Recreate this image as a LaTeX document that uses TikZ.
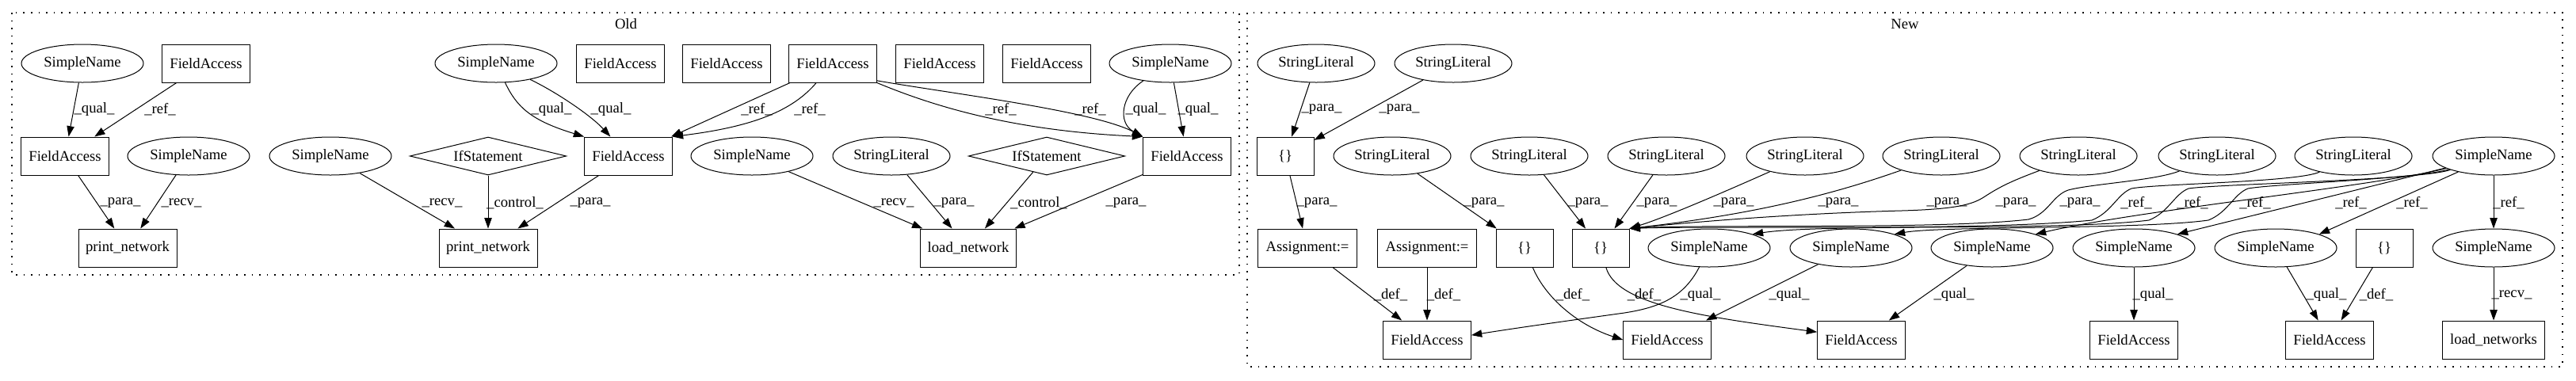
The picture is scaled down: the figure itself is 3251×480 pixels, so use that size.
\documentclass[tikz,border=0pt]{standalone}
\usepackage{fontspec}
\setmainfont{Liberation Serif}
\usetikzlibrary{shapes.geometric,arrows.meta}
\begin{document}
\begin{tikzpicture}[x=0.75pt,y=-0.75pt,
  every node/.style={font=\fontsize{14pt}{16pt}\selectfont},
  base/.style={draw, line width=0.75pt, inner sep=0pt, minimum height=36pt},
  fa/.style={base, rectangle, minimum width=83pt},
  pn/.style={base, rectangle, minimum width=93pt},
  lnw/.style={base, rectangle, minimum width=91pt},
  lnws/.style={base, rectangle, minimum width=97pt},
  asg/.style={base, rectangle, minimum width=94pt},
  br/.style={base, rectangle, minimum width=54pt},
  sn/.style={base, ellipse, minimum width=115.5pt},
  sl/.style={base, ellipse, minimum width=111pt},
  ifs/.style={base, diamond, aspect=4.1, minimum width=148pt},
  e/.style={draw, line width=0.75pt, -{Triangle[length=10pt,width=7pt]}},
  lab/.style={inner sep=0pt},
  clus/.style={draw, line width=1pt, dash pattern=on 1.2pt off 6pt}
]
\useasboundingbox (0,0) rectangle (3251,480);
% clusters
\draw[clus] (15,16) rectangle (1564,347);
\draw[clus] (1574,16) rectangle (3234,463);
\node[lab] (oldlab) at (790,30) {Old};
\node[lab] (newlab) at (2404,30) {New};

% ---------- Old ----------
\node[sn] (os1) at (104,80) {SimpleName};
\node[fa] (of1) at (260,80) {FieldAccess};
\node[sn] (os2) at (626,80) {SimpleName};
\node[fa] (of2) at (783,80) {FieldAccess};
\node[fa] (of3) at (917,80) {FieldAccess};
\node[fa] (of4) at (1051,80) {FieldAccess};
\node[fa] (of5) at (1186,80) {FieldAccess};
\node[fa] (of6) at (1321,80) {FieldAccess};
\node[sn] (os3) at (1477,80) {SimpleName};
\node[fa] (of7) at (82,197) {FieldAccess};
\node[sn] (os4) at (238,197) {SimpleName};
\node[sn] (os5) at (417,197) {SimpleName};
\node[ifs] (oi1) at (616,197) {IfStatement};
\node[fa] (of8) at (793,197) {FieldAccess};
\node[sn] (os6) at (949,197) {SimpleName};
\node[sl] (ol1) at (1125,197) {StringLiteral};
\node[ifs] (oi2) at (1321,197) {IfStatement};
\node[fa] (of9) at (1498,197) {FieldAccess};
\node[pn] (op1) at (161,313) {print\_network};
\node[pn] (op2) at (616,313) {print\_network};
\node[lnw] (oln) at (1222,313) {load\_network};

\draw[e] (os1) -- (of7);
\draw[e] (of1) -- (of7);
\draw[e] (of7) -- (op1);
\draw[e] (os4) -- (op1);
\draw[e] (os5) -- (op2);
\draw[e] (oi1) -- (op2);
\draw[e] (of8) -- (op2);
\draw[e] (os2) .. controls (652,135) and (670,152) .. (of8.north west);
\draw[e] (os2) .. controls (700,115) and (745,145) .. (of8);
\draw[e] (of4) -- (of8);
\draw[e] (of4) .. controls (1000,140) and (950,160) .. (of8.north east);
\draw[e] ([yshift=2pt]of4.south east) .. controls (1200,118) and (1380,140) .. (of9.north west);
\draw[e] (of4.south east) .. controls (1180,135) and (1280,165) .. (of9.north west);
\draw[e] (os3) .. controls (1415,120) and (1410,155) .. (of9.north west);
\draw[e] (os3) -- (of9);
\draw[e] (os6) -- (oln);
\draw[e] (ol1) -- (oln);
\draw[e] (oi2) -- (oln);
\draw[e] (of9) -- (oln);

\node[lab] at (119,138) {\_qual\_};
\node[lab] at (202,138) {\_ref\_};
\node[lab] at (152,256) {\_para\_};
\node[lab] at (229,256) {\_recv\_};
\node[lab] at (558,256) {\_recv\_};
\node[lab] at (650,256) {\_control\_};
\node[lab] at (745,256) {\_para\_};
\node[lab] at (696,138) {\_qual\_};
\node[lab] at (771,138) {\_qual\_};
\node[lab] at (955,138) {\_ref\_};
\node[lab] at (1022,138) {\_ref\_};
\node[lab] at (1263,138) {\_ref\_};
\node[lab] at (1376,138) {\_ref\_};
\node[lab] at (1446,138) {\_qual\_};
\node[lab] at (1512,138) {\_qual\_};
\node[lab] at (1128,256) {\_recv\_};
\node[lab] at (1204,256) {\_para\_};
\node[lab] at (1311,256) {\_control\_};
\node[lab] at (1421,256) {\_para\_};

% ---------- New ----------
\node[sl] (ns1) at (1661,80) {StringLiteral};
\node[sl] (ns2) at (1834,80) {StringLiteral};
\node[br] (nb1) at (1622,197) {\{\}};
\node[sl] (nl1) at (1757,197) {StringLiteral};
\node[sl] (nl2) at (1930,197) {StringLiteral};
\node[sl] (nl3) at (2103,197) {StringLiteral};
\node[sl] (nl4) at (2278,197) {StringLiteral};
\node[sl] (nl5) at (2450,197) {StringLiteral};
\node[sl] (nl6) at (2623,197) {StringLiteral};
\node[sl] (nl7) at (2798,197) {StringLiteral};
\node[sl] (nl8) at (2970,197) {StringLiteral};
\node[sn] (nn1) at (3147,197) {SimpleName};
\node[asg] (na1) at (1650,313) {Assignment:=};
\node[asg] (na2) at (1801,313) {Assignment:=};
\node[br] (nb2) at (1924,313) {\{\}};
\node[br] (nb3) at (2020,313) {\{\}};
\node[sn] (nn2) at (2157,313) {SimpleName};
\node[sn] (nn3) at (2336,313) {SimpleName};
\node[sn] (nn4) at (2514,313) {SimpleName};
\node[sn] (nn5) at (2693,313) {SimpleName};
\node[sn] (nn6) at (2872,313) {SimpleName};
\node[br] (nb4) at (3009,313) {\{\}};
\node[sn] (nn7) at (3147,313) {SimpleName};
\node[fa] (nf1) at (1801,429) {FieldAccess};
\node[fa] (nf2) at (2104,429) {FieldAccess};
\node[fa] (nf3) at (2349,429) {FieldAccess};
\node[fa] (nf4) at (2693,429) {FieldAccess};
\node[fa] (nf5) at (2940,429) {FieldAccess};
\node[lnws] (nlo) at (3147,429) {load\_networks};

\draw[e] (ns1) -- (nb1);
\draw[e] (ns2) -- (nb1);
\draw[e] (nb1) -- (na1);
\draw[e] (na1) -- (nf1);
\draw[e] (na2) -- (nf1);
\draw[e] (nl1) -- (nb2);
\draw[e] (nb2) .. controls (1950,375) and (1990,410) .. (nf2.west);
\draw[e] (nb3) .. controls (2040,385) and (2150,400) .. (nf3.170);
\draw[e] (nn2) .. controls (2125,375) and (2095,388) .. (2050,395)
                .. controls (2000,402) and (1920,413) .. (nf1.6);
\draw[e] (nn3) -- (nf2);
\draw[e] (nn4) -- (nf3);
\draw[e] (nn5) -- (nf4);
\draw[e] (nn6) -- (nf5);
\draw[e] (nb4) -- (nf5);
\draw[e] (nn1) -- (nn7);
\draw[e] (nn7) -- (nlo);
% _para_ into {}
\draw[e] (nl2) -- (nb3);
\draw[e] (nl3) -- (nb3);
\draw[e] (nl4) .. controls (2170,245) and (2100,275) .. (nb3.north east);
\draw[e] (nl5) .. controls (2300,250) and (2200,272) .. (nb3.north east);
\draw[e] (nl6) .. controls (2540,228) and (2525,235) .. (2505,248)
                .. controls (2490,258) and (2470,264) .. (2400,266)
                .. controls (2250,270) and (2120,282) .. (nb3.north east);
\draw[e] (nl7) .. controls (2720,228) and (2640,232) .. (2610,240)
                .. controls (2590,247) and (2585,270) .. (2560,277)
                .. controls (2450,290) and (2150,283) .. (nb3.north east);
\draw[e] (nl8) .. controls (2900,230) and (2720,232) .. (2690,238)
                .. controls (2672,245) and (2665,268) .. (2640,278)
                .. controls (2500,292) and (2150,285) .. (nb3.north east);
% _ref_ from SimpleName
\draw[e] (nn1) .. controls (3050,228) and (2800,232) .. (2762,238)
                .. controls (2744,245) and (2737,268) .. (2712,278)
                .. controls (2600,292) and (2300,282) .. (nn2.north east);
\draw[e] (nn1) .. controls (3050,226) and (2870,232) .. (2837,238)
                .. controls (2819,245) and (2812,268) .. (2787,278)
                .. controls (2700,290) and (2450,285) .. (nn3.north east);
\draw[e] (nn1) .. controls (3000,235) and (2700,265) .. (nn4.north east);
\draw[e] (nn1) -- (nn5.north east);
\draw[e] (nn1) -- (nn6.north east);

\node[lab] at (1668,138) {\_para\_};
\node[lab] at (1766,138) {\_para\_};
\node[lab] at (1662,256) {\_para\_};
\node[lab] at (1873,256) {\_para\_};
\node[lab] at (2004,256) {\_para\_};
\node[lab] at (2091,256) {\_para\_};
\node[lab] at (2188,256) {\_para\_};
\node[lab] at (2320,256) {\_para\_};
\node[lab] at (2457,256) {\_para\_};
\node[lab] at (2544,256) {\_para\_};
\node[lab] at (2625,256) {\_para\_};
\node[lab] at (2696,256) {\_ref\_};
\node[lab] at (2767,256) {\_ref\_};
\node[lab] at (2846,256) {\_ref\_};
\node[lab] at (2967,256) {\_ref\_};
\node[lab] at (3044,256) {\_ref\_};
\node[lab] at (3166,256) {\_ref\_};
\node[lab] at (1755,372) {\_def\_};
\node[lab] at (1822,372) {\_def\_};
\node[lab] at (1985,372) {\_def\_};
\node[lab] at (2075,372) {\_def\_};
\node[lab] at (2146,372) {\_qual\_};
\node[lab] at (2258,372) {\_qual\_};
\node[lab] at (2466,372) {\_qual\_};
\node[lab] at (2717,372) {\_qual\_};
\node[lab] at (2936,372) {\_qual\_};
\node[lab] at (2999,372) {\_def\_};
\node[lab] at (3170,372) {\_recv\_};
\end{tikzpicture}
\end{document}
